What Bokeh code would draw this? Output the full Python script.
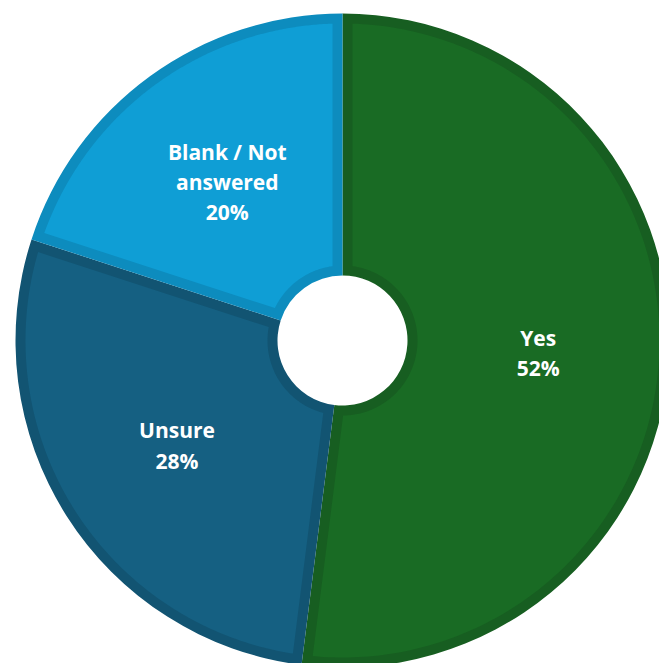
import numpy as np
from bokeh.plotting import figure
from bokeh.models import Range1d, ColumnDataSource
from bokeh.core.properties import value
from bokeh.embed import file_html
from bokeh.resources import INLINE

# ---- data ----
categories = ["Yes", "Unsure", "Blank / Not\nanswered"]
percents = [52, 28, 20]
fill_colors = ["#196B24", "#156082", "#0F9ED5"]
edge_colors = ["#175E21", "#125472", "#0D8CBE"]

# ---- geometry (pixels, 1 data unit = 1 px) ----
W, H = 659, 663
cx_px, cy_px = 342, 340           # centre in figure pixel coords (from top-left)
R_OUT, R_IN, BAND = 327, 65, 10

p = figure(width=W, height=H, output_backend="svg", toolbar_location=None,
           x_range=Range1d(-cx_px, W - cx_px), y_range=Range1d(-(H - cy_px), cy_px),
           min_border=0, background_fill_color="white", border_fill_color="white")
p.axis.visible = False
p.grid.visible = False
p.outline_line_color = None

vals = np.array(percents, dtype=float)
frac = vals / vals.sum()
cum = np.concatenate([[0], np.cumsum(frac)])
starts = np.pi / 2 - 2 * np.pi * cum[:-1]
ends = np.pi / 2 - 2 * np.pi * cum[1:]

# dark full wedges
src = ColumnDataSource(dict(start=starts, end=ends, color=edge_colors))
p.annular_wedge(x=0, y=0, inner_radius=R_IN, outer_radius=R_OUT,
                start_angle="start", end_angle="end", direction="clock",
                fill_color="color", line_color=None, source=src)

# lighter inset fills (offset by BAND px from every edge)
xs, ys = [], []
R = R_OUT - BAND
ri = R_IN + BAND
for a_hi, a_lo in zip(starts, ends):
    t_outer = np.linspace(a_lo + np.arcsin(BAND / R), a_hi - np.arcsin(BAND / R), 200)
    t_inner = np.linspace(a_hi - np.arcsin(BAND / ri), a_lo + np.arcsin(BAND / ri), 80)
    x = np.concatenate([R * np.cos(t_outer), ri * np.cos(t_inner)])
    y = np.concatenate([R * np.sin(t_outer), ri * np.sin(t_inner)])
    xs.append(x.tolist())
    ys.append(y.tolist())
p.patches(xs=xs, ys=ys, fill_color=fill_colors, line_color=None)

# labels at mid radius
mid = (starts + ends) / 2
r_mid = (R_IN + R_OUT) / 2
texts = [f"{c}\n{v}%" for c, v in zip(categories, percents)]
p.text(x=(r_mid * np.cos(mid)).tolist(), y=(r_mid * np.sin(mid)).tolist(), text=texts,
       text_font=value("Open Sans"), text_font_style="bold", text_font_size="21px",
       text_color="white", text_align="center", text_baseline="middle",
       text_line_height=1.08)

open("out.html", "w").write(file_html(p, INLINE))
